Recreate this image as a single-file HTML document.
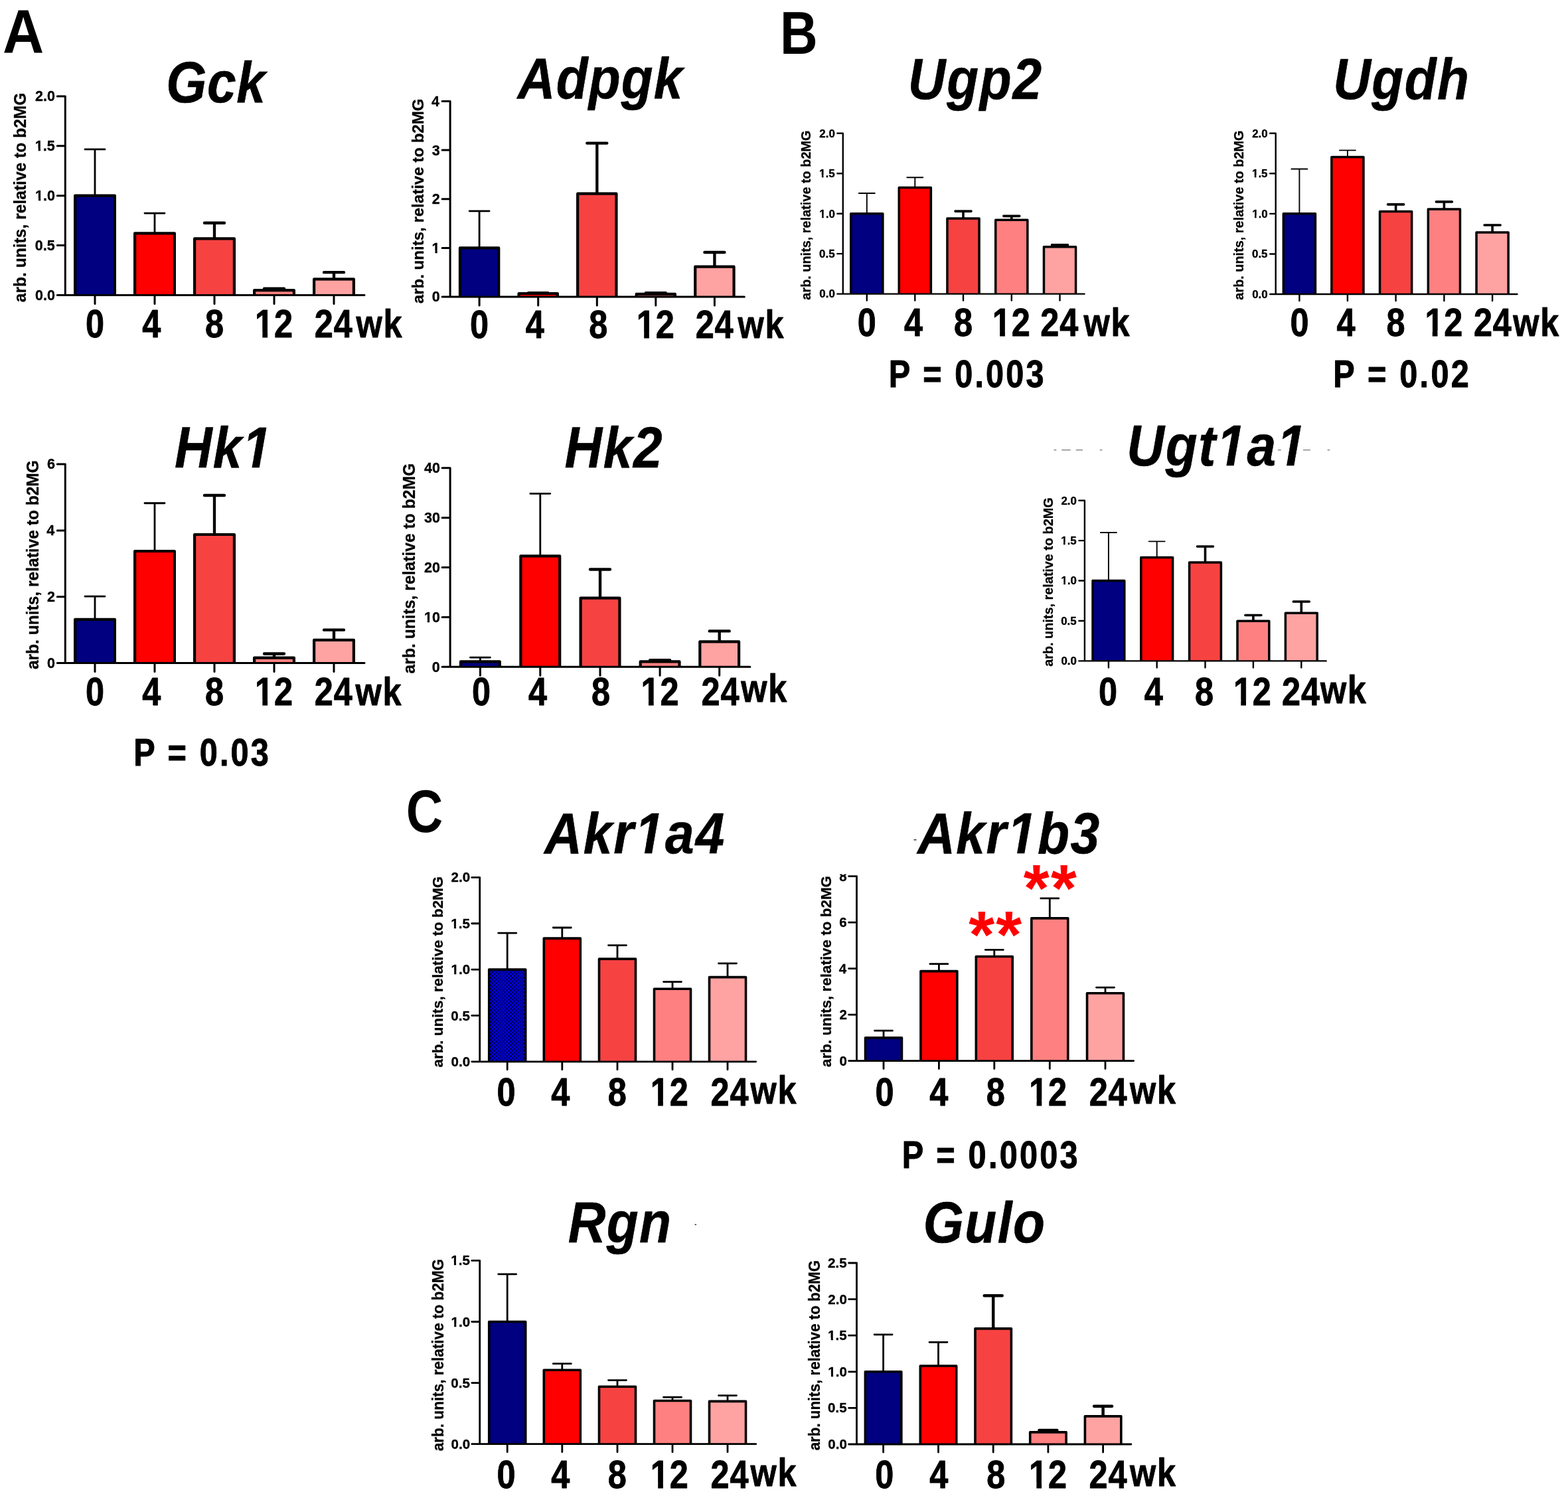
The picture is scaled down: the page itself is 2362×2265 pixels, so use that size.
<!DOCTYPE html>
<html lang="en"><head><meta charset="utf-8"><title>Figure</title>
<style>html,body{margin:0;padding:0;background:#fff}body{width:2362px;height:2265px;overflow:hidden}svg{display:block}</style></head>
<body>
<svg width="2362" height="2265" viewBox="0 0 2362 2265" font-family="'Liberation Sans', Arial, Helvetica, sans-serif" font-weight="bold" fill="#000" stroke-linecap="round" stroke-linejoin="round">
<rect width="2362" height="2265" fill="#fff"/>
<defs><pattern id="chk" width="5.5" height="5.5" patternUnits="userSpaceOnUse" x="735" y="1460"><rect width="5.5" height="5.5" fill="#000050"/><rect width="2.75" height="2.75" fill="#0000ff"/><rect x="2.75" y="2.75" width="2.75" height="2.75" fill="#0000ff"/></pattern></defs>
<g id="gck" stroke="#000" fill="none">
<path d="M143 294.7V224.89M128 224.89h30" stroke-width="2.8"/><path d="M233 351.32V321.06M218 321.06h30" stroke-width="2.8"/><path d="M323 359.41V335.75M308 335.75h30" stroke-width="4.34"/><path d="M413 437.16V434.61M398 434.61h30" stroke-width="4.34"/><path d="M503 420.38V410.2M488 410.2h30" stroke-width="4.34"/>
<g stroke-width="4.2" stroke-linecap="butt"><path d="M113.1 444.5V294.7H172.9V444.5" fill="#000080"/><path d="M203.1 444.5V351.32H262.9V444.5" fill="#fe0000"/><path d="M293.1 444.5V359.41H352.9V444.5" fill="#f74242"/><path d="M383.1 444.5V437.16H442.9V444.5" fill="#ff8080"/><path d="M473.1 444.5V420.38H532.9V444.5" fill="#ffa2a2"/></g>
<path d="M98.3 144.9V444.5M86.3 444.5H549M86.3 369.6H98.3M86.3 294.7H98.3M86.3 219.8H98.3M86.3 144.9H98.3M143 444.5v13M233 444.5v13M323 444.5v13M413 444.5v13M503 444.5v13" stroke-width="3.0"/>
<text fill="#000" transform="translate(53.11,451.89) scale(1.0000,1)" font-size="21.49" stroke="#000" stroke-width="0.35" stroke-linejoin="round">0.0</text>
<text fill="#000" transform="translate(52.84,376.99) scale(1.0000,1)" font-size="21.49" stroke="#000" stroke-width="0.35" stroke-linejoin="round">0.5</text>
<text fill="#000" transform="translate(53.11,302.09) scale(1.0000,1)" font-size="21.49" stroke="#000" stroke-width="0.35" stroke-linejoin="round">1.0</text>
<path transform="translate(53.11,302.09) scale(1.0000,1)" d="M-0.12 -3.7H4.83V1.48H-0.12zM8.15 -3.7H12.82V1.48H8.15z" fill="#fff" stroke="none"/>
<text fill="#000" transform="translate(52.84,227.19) scale(1.0000,1)" font-size="21.49" stroke="#000" stroke-width="0.35" stroke-linejoin="round">1.5</text>
<path transform="translate(52.84,227.19) scale(1.0000,1)" d="M-0.12 -3.7H4.83V1.48H-0.12zM8.15 -3.7H12.82V1.48H8.15z" fill="#fff" stroke="none"/>
<text fill="#000" transform="translate(53.11,152.29) scale(1.0000,1)" font-size="21.49" stroke="#000" stroke-width="0.35" stroke-linejoin="round">2.0</text>
<text fill="#000" transform="translate(38.75,455.19) rotate(-90) scale(0.9621,1)" font-size="25.56" stroke="#000" stroke-width="0.3" stroke-linejoin="round">arb. units, relative to b2MG</text>
<text fill="#000" transform="translate(128.99,508.15) scale(0.8600,1)" font-size="58.69" stroke="#000" stroke-width="0.9" stroke-linejoin="round">0</text>
<text fill="#000" transform="translate(214.14,508.15) scale(0.8600,1)" font-size="58.69" stroke="#000" stroke-width="0.9" stroke-linejoin="round">4</text>
<text fill="#000" transform="translate(308.93,508.15) scale(0.8600,1)" font-size="58.69" stroke="#000" stroke-width="0.9" stroke-linejoin="round">8</text>
<text fill="#000" transform="translate(383.99,508.15) scale(0.8600,1)" font-size="58.69" style="letter-spacing:1.00px" stroke="#000" stroke-width="0.9" stroke-linejoin="round">12</text>
<path transform="translate(383.99,508.15) scale(0.8600,1)" d="M1.95 -7.99H13.23V1.75H1.95zM22.22 -7.99H32.74V1.75H22.22z" fill="#fff" stroke="none"/>
<text fill="#000" transform="translate(473.8,508.15) scale(0.8600,1)" font-size="58.69" style="letter-spacing:1px" stroke="#000" stroke-width="0.9" stroke-linejoin="round">24<tspan dx="5.75" style="letter-spacing:2px;font-size:58.69px">wk</tspan></text>
<text fill="#000" transform="translate(250.15,153.6) scale(0.9000,1)" font-size="87.13" style="font-style:italic;letter-spacing:0.86px" stroke="#000" stroke-width="0.6" stroke-linejoin="round">Gck</text>
</g>
<g id="adpgk" stroke="#000" fill="none">
<path d="M722.1 373.38V317.86M707.1 317.86h30" stroke-width="2.8"/><path d="M810.7 441.99V440.37M795.7 440.37h30" stroke-width="2.8"/><path d="M899.3 291.65V215.6M884.3 215.6h30" stroke-width="4.34"/><path d="M987.8 442.95V441.11M972.8 441.11h30" stroke-width="4.34"/><path d="M1076.4 401.72V380M1061.4 380h30" stroke-width="4.34"/>
<g stroke-width="4.2" stroke-linecap="butt"><path d="M692.95 447V373.38H751.25V447" fill="#000080"/><path d="M781.55 447V441.99H839.85V447" fill="#fe0000"/><path d="M870.15 447V291.65H928.45V447" fill="#f74242"/><path d="M958.65 447V442.95H1016.95V447" fill="#ff8080"/><path d="M1047.25 447V401.72H1105.55V447" fill="#ffa2a2"/></g>
<path d="M678.1 152.5V447M666.1 447H1121.3M666.1 373.38H678.1M666.1 299.75H678.1M666.1 226.12H678.1M666.1 152.5H678.1M722.1 447v13M810.7 447v13M899.3 447v13M987.8 447v13M1076.4 447v13" stroke-width="3.0"/>
<text fill="#000" transform="translate(650.86,454.39) scale(1.0000,1)" font-size="21.49" stroke="#000" stroke-width="0.35" stroke-linejoin="round">0</text>
<text fill="#000" transform="translate(650.59,380.77) scale(1.0000,1)" font-size="21.49" stroke="#000" stroke-width="0.35" stroke-linejoin="round">1</text>
<path transform="translate(650.59,380.77) scale(1.0000,1)" d="M-0.12 -3.7H4.83V1.48H-0.12zM8.15 -3.7H12.82V1.48H8.15z" fill="#fff" stroke="none"/>
<text fill="#000" transform="translate(650.86,307.14) scale(1.0000,1)" font-size="21.49" stroke="#000" stroke-width="0.35" stroke-linejoin="round">2</text>
<text fill="#000" transform="translate(650.75,233.52) scale(1.0000,1)" font-size="21.49" stroke="#000" stroke-width="0.35" stroke-linejoin="round">3</text>
<text fill="#000" transform="translate(650.1,159.89) scale(1.0000,1)" font-size="21.49" stroke="#000" stroke-width="0.35" stroke-linejoin="round">4</text>
<text fill="#000" transform="translate(637.85,457.17) rotate(-90) scale(0.9792,1)" font-size="24.56" stroke="#000" stroke-width="0.3" stroke-linejoin="round">arb. units, relative to b2MG</text>
<text fill="#000" transform="translate(708.09,508.85) scale(0.8600,1)" font-size="58.69" stroke="#000" stroke-width="0.9" stroke-linejoin="round">0</text>
<text fill="#000" transform="translate(791.84,508.85) scale(0.8600,1)" font-size="58.69" stroke="#000" stroke-width="0.9" stroke-linejoin="round">4</text>
<text fill="#000" transform="translate(887.23,508.85) scale(0.8600,1)" font-size="58.69" stroke="#000" stroke-width="0.9" stroke-linejoin="round">8</text>
<text fill="#000" transform="translate(958.79,508.85) scale(0.8600,1)" font-size="58.69" style="letter-spacing:1.00px" stroke="#000" stroke-width="0.9" stroke-linejoin="round">12</text>
<path transform="translate(958.79,508.85) scale(0.8600,1)" d="M1.95 -7.99H13.23V1.75H1.95zM22.22 -7.99H32.74V1.75H22.22z" fill="#fff" stroke="none"/>
<text fill="#000" transform="translate(1047.7,508.85) scale(0.8600,1)" font-size="58.69" style="letter-spacing:1px" stroke="#000" stroke-width="0.9" stroke-linejoin="round">24<tspan dx="6.91" style="letter-spacing:2px;font-size:58.69px">wk</tspan></text>
<text fill="#000" transform="translate(779.84,147.9) scale(0.9000,1)" font-size="87.13" style="font-style:italic;letter-spacing:1.30px" stroke="#000" stroke-width="0.6" stroke-linejoin="round">Adpgk</text>
</g>
<g id="ugp2" stroke="#000" fill="none">
<path d="M1305.8 321.7V290.99M1293.8 290.99h24" stroke-width="1.9"/><path d="M1378.3 282.41V267.3M1366.3 267.3h24" stroke-width="1.9"/><path d="M1451 328.95V318.07M1439 318.07h24" stroke-width="3.61"/><path d="M1523.8 331.37V325.33M1511.8 325.33h24" stroke-width="3.61"/><path d="M1596.5 371.75V368.85M1584.5 368.85h24" stroke-width="3.61"/>
<g stroke-width="3.5" stroke-linecap="butt"><path d="M1281.75 442.6V321.7H1329.85V442.6" fill="#000080"/><path d="M1354.25 442.6V282.41H1402.35V442.6" fill="#fe0000"/><path d="M1426.95 442.6V328.95H1475.05V442.6" fill="#f74242"/><path d="M1499.75 442.6V331.37H1547.85V442.6" fill="#ff8080"/><path d="M1572.45 442.6V371.75H1620.55V442.6" fill="#ffa2a2"/></g>
<path d="M1269.8 200.8V442.6M1261.3 442.6H1633.6M1261.3 382.15H1269.8M1261.3 321.7H1269.8M1261.3 261.25H1269.8M1261.3 200.8H1269.8M1305.8 442.6v10M1378.3 442.6v10M1451 442.6v10M1523.8 442.6v10M1596.5 442.6v10" stroke-width="2.4"/>
<text fill="#000" transform="translate(1234.32,448.41) scale(1.0000,1)" font-size="16.89" stroke="#000" stroke-width="0.35" stroke-linejoin="round">0.0</text>
<text fill="#000" transform="translate(1234.11,387.96) scale(1.0000,1)" font-size="16.89" stroke="#000" stroke-width="0.35" stroke-linejoin="round">0.5</text>
<text fill="#000" transform="translate(1234.32,327.51) scale(1.0000,1)" font-size="16.89" stroke="#000" stroke-width="0.35" stroke-linejoin="round">1.0</text>
<path transform="translate(1234.32,327.51) scale(1.0000,1)" d="M-0.41 -3.2H3.76V1.48H-0.41zM6.44 -3.2H10.39V1.48H6.44z" fill="#fff" stroke="none"/>
<text fill="#000" transform="translate(1234.11,267.06) scale(1.0000,1)" font-size="16.89" stroke="#000" stroke-width="0.35" stroke-linejoin="round">1.5</text>
<path transform="translate(1234.11,267.06) scale(1.0000,1)" d="M-0.41 -3.2H3.76V1.48H-0.41zM6.44 -3.2H10.39V1.48H6.44z" fill="#fff" stroke="none"/>
<text fill="#000" transform="translate(1234.32,206.61) scale(1.0000,1)" font-size="16.89" stroke="#000" stroke-width="0.35" stroke-linejoin="round">2.0</text>
<text fill="#000" transform="translate(1220.85,451.65) rotate(-90) scale(0.9671,1)" font-size="20.56" stroke="#000" stroke-width="0.3" stroke-linejoin="round">arb. units, relative to b2MG</text>
<text fill="#000" transform="translate(1291.79,505.75) scale(0.8600,1)" font-size="58.69" stroke="#000" stroke-width="0.9" stroke-linejoin="round">0</text>
<text fill="#000" transform="translate(1361.94,505.75) scale(0.8600,1)" font-size="58.69" stroke="#000" stroke-width="0.9" stroke-linejoin="round">4</text>
<text fill="#000" transform="translate(1436.93,505.75) scale(0.8600,1)" font-size="58.69" stroke="#000" stroke-width="0.9" stroke-linejoin="round">8</text>
<text fill="#000" transform="translate(1494.79,505.75) scale(0.8600,1)" font-size="58.69" style="letter-spacing:1.00px" stroke="#000" stroke-width="0.9" stroke-linejoin="round">12</text>
<path transform="translate(1494.79,505.75) scale(0.8600,1)" d="M1.95 -7.99H13.23V1.75H1.95zM22.22 -7.99H32.74V1.75H22.22z" fill="#fff" stroke="none"/>
<text fill="#000" transform="translate(1567.3,505.75) scale(0.8600,1)" font-size="58.69" style="letter-spacing:1px" stroke="#000" stroke-width="0.9" stroke-linejoin="round">24<tspan dx="8.65" style="letter-spacing:2px;font-size:58.69px">wk</tspan></text>
<text fill="#000" transform="translate(1367.86,149.2) scale(0.9000,1)" font-size="87.13" style="font-style:italic;letter-spacing:1.93px" stroke="#000" stroke-width="0.6" stroke-linejoin="round">Ugp2</text>
<text fill="#000" transform="translate(1338.85,582.5) scale(0.8600,1)" font-size="56.55" style="letter-spacing:3.63px" stroke="#000" stroke-width="1" stroke-linejoin="round">P = 0.003</text>
</g>
<g id="ugdh" stroke="#000" fill="none">
<path d="M1957.4 321.85V254.49M1945.4 254.49h24" stroke-width="1.9"/><path d="M2029.9 236.56V226.38M2017.9 226.38h24" stroke-width="1.9"/><path d="M2102.6 318.46V307.92M2090.6 307.92h24" stroke-width="3.61"/><path d="M2175.4 315.07V303.92M2163.4 303.92h24" stroke-width="3.61"/><path d="M2248.1 350.08V339.05M2236.1 339.05h24" stroke-width="3.61"/>
<g stroke-width="3.5" stroke-linecap="butt"><path d="M1933.35 443V321.85H1981.45V443" fill="#000080"/><path d="M2005.85 443V236.56H2053.95V443" fill="#fe0000"/><path d="M2078.55 443V318.46H2126.65V443" fill="#f74242"/><path d="M2151.35 443V315.07H2199.45V443" fill="#ff8080"/><path d="M2224.05 443V350.08H2272.15V443" fill="#ffa2a2"/></g>
<path d="M1921.7 200.7V443M1913.2 443H2285.5M1913.2 382.43H1921.7M1913.2 321.85H1921.7M1913.2 261.27H1921.7M1913.2 200.7H1921.7M1957.4 443v10M2029.9 443v10M2102.6 443v10M2175.4 443v10M2248.1 443v10" stroke-width="2.4"/>
<text fill="#000" transform="translate(1886.22,448.81) scale(1.0000,1)" font-size="16.89" stroke="#000" stroke-width="0.35" stroke-linejoin="round">0.0</text>
<text fill="#000" transform="translate(1886.01,388.24) scale(1.0000,1)" font-size="16.89" stroke="#000" stroke-width="0.35" stroke-linejoin="round">0.5</text>
<text fill="#000" transform="translate(1886.22,327.66) scale(1.0000,1)" font-size="16.89" stroke="#000" stroke-width="0.35" stroke-linejoin="round">1.0</text>
<path transform="translate(1886.22,327.66) scale(1.0000,1)" d="M-0.41 -3.2H3.76V1.48H-0.41zM6.44 -3.2H10.39V1.48H6.44z" fill="#fff" stroke="none"/>
<text fill="#000" transform="translate(1886.01,267.09) scale(1.0000,1)" font-size="16.89" stroke="#000" stroke-width="0.35" stroke-linejoin="round">1.5</text>
<path transform="translate(1886.01,267.09) scale(1.0000,1)" d="M-0.41 -3.2H3.76V1.48H-0.41zM6.44 -3.2H10.39V1.48H6.44z" fill="#fff" stroke="none"/>
<text fill="#000" transform="translate(1886.22,206.51) scale(1.0000,1)" font-size="16.89" stroke="#000" stroke-width="0.35" stroke-linejoin="round">2.0</text>
<text fill="#000" transform="translate(1872.85,451.65) rotate(-90) scale(0.9671,1)" font-size="20.56" stroke="#000" stroke-width="0.3" stroke-linejoin="round">arb. units, relative to b2MG</text>
<text fill="#000" transform="translate(1943.39,505.95) scale(0.8600,1)" font-size="58.69" stroke="#000" stroke-width="0.9" stroke-linejoin="round">0</text>
<text fill="#000" transform="translate(2013.54,505.95) scale(0.8600,1)" font-size="58.69" stroke="#000" stroke-width="0.9" stroke-linejoin="round">4</text>
<text fill="#000" transform="translate(2088.53,505.95) scale(0.8600,1)" font-size="58.69" stroke="#000" stroke-width="0.9" stroke-linejoin="round">8</text>
<text fill="#000" transform="translate(2146.39,505.95) scale(0.8600,1)" font-size="58.69" style="letter-spacing:1.00px" stroke="#000" stroke-width="0.9" stroke-linejoin="round">12</text>
<path transform="translate(2146.39,505.95) scale(0.8600,1)" d="M1.95 -7.99H13.23V1.75H1.95zM22.22 -7.99H32.74V1.75H22.22z" fill="#fff" stroke="none"/>
<text fill="#000" transform="translate(2219.9,505.95) scale(0.8600,1)" font-size="58.69" style="letter-spacing:1px" stroke="#000" stroke-width="0.9" stroke-linejoin="round">24<tspan dx="1.68" style="letter-spacing:2px;font-size:58.69px">wk</tspan></text>
<text fill="#000" transform="translate(2008.36,149.2) scale(0.9000,1)" font-size="87.13" style="font-style:italic;letter-spacing:1.54px" stroke="#000" stroke-width="0.6" stroke-linejoin="round">Ugdh</text>
<text fill="#000" transform="translate(2008.35,582.5) scale(0.8600,1)" font-size="56.55" style="letter-spacing:3.78px" stroke="#000" stroke-width="1" stroke-linejoin="round">P = 0.02</text>
</g>
<g id="hk1" stroke="#000" fill="none">
<path d="M143 932.81V898.17M128 898.17h30" stroke-width="2.8"/><path d="M233 829.98V757.75M218 757.75h30" stroke-width="2.8"/><path d="M323 805.02V746.02M308 746.02h30" stroke-width="4.34"/><path d="M413 990.61V984.47M398 984.47h30" stroke-width="4.34"/><path d="M503 963.91V948.68M488 948.68h30" stroke-width="4.34"/>
<g stroke-width="4.2" stroke-linecap="butt"><path d="M113.1 998.6V932.81H172.9V998.6" fill="#000080"/><path d="M203.1 998.6V829.98H262.9V998.6" fill="#fe0000"/><path d="M293.1 998.6V805.02H352.9V998.6" fill="#f74242"/><path d="M383.1 998.6V990.61H442.9V998.6" fill="#ff8080"/><path d="M473.1 998.6V963.91H532.9V998.6" fill="#ffa2a2"/></g>
<path d="M98.3 699.1V998.6M86.3 998.6H549M86.3 898.77H98.3M86.3 798.93H98.3M86.3 699.1H98.3M143 998.6v13M233 998.6v13M323 998.6v13M413 998.6v13M503 998.6v13" stroke-width="3.0"/>
<text fill="#000" transform="translate(71.06,1005.99) scale(1.0000,1)" font-size="21.49" stroke="#000" stroke-width="0.35" stroke-linejoin="round">0</text>
<text fill="#000" transform="translate(71.06,906.16) scale(1.0000,1)" font-size="21.49" stroke="#000" stroke-width="0.35" stroke-linejoin="round">2</text>
<text fill="#000" transform="translate(70.3,806.33) scale(1.0000,1)" font-size="21.49" stroke="#000" stroke-width="0.35" stroke-linejoin="round">4</text>
<text fill="#000" transform="translate(70.95,706.49) scale(1.0000,1)" font-size="21.49" stroke="#000" stroke-width="0.35" stroke-linejoin="round">6</text>
<text fill="#000" transform="translate(57.85,1008.09) rotate(-90) scale(0.9606,1)" font-size="25.56" stroke="#000" stroke-width="0.3" stroke-linejoin="round">arb. units, relative to b2MG</text>
<text fill="#000" transform="translate(128.99,1061.95) scale(0.8600,1)" font-size="58.69" stroke="#000" stroke-width="0.9" stroke-linejoin="round">0</text>
<text fill="#000" transform="translate(214.14,1061.95) scale(0.8600,1)" font-size="58.69" stroke="#000" stroke-width="0.9" stroke-linejoin="round">4</text>
<text fill="#000" transform="translate(308.93,1061.95) scale(0.8600,1)" font-size="58.69" stroke="#000" stroke-width="0.9" stroke-linejoin="round">8</text>
<text fill="#000" transform="translate(383.99,1061.95) scale(0.8600,1)" font-size="58.69" style="letter-spacing:1.00px" stroke="#000" stroke-width="0.9" stroke-linejoin="round">12</text>
<path transform="translate(383.99,1061.95) scale(0.8600,1)" d="M1.95 -7.99H13.23V1.75H1.95zM22.22 -7.99H32.74V1.75H22.22z" fill="#fff" stroke="none"/>
<text fill="#000" transform="translate(473.8,1061.95) scale(0.8600,1)" font-size="58.69" style="letter-spacing:1px" stroke="#000" stroke-width="0.9" stroke-linejoin="round">24<tspan dx="4.58" style="letter-spacing:2px;font-size:58.69px">wk</tspan></text>
<text fill="#000" transform="translate(263,703.5) scale(0.9000,1)" font-size="87.13" style="font-style:italic;letter-spacing:1.14px" stroke="#000" stroke-width="0.6" stroke-linejoin="round">Hk1</text>
<path transform="translate(263,703.5) scale(0.9000,1)" d="M113.23 1.6L129.26 1.6L131.81 -11.61L115.78 -11.61zM141.8 1.6L156.95 1.6L159.5 -11.61L144.34 -11.61z" fill="#fff" stroke="none"/>
<text fill="#000" transform="translate(201.15,1153.1) scale(0.8600,1)" font-size="56.55" style="letter-spacing:3.67px" stroke="#000" stroke-width="1" stroke-linejoin="round">P = 0.03</text>
</g>
<g id="hk2" stroke="#000" fill="none">
<path d="M723.4 996.44V990.07M708.4 990.07h30" stroke-width="2.8"/><path d="M813.8 837.33V743.36M798.8 743.36h30" stroke-width="2.8"/><path d="M904 900.6V857.54M889 857.54h30" stroke-width="4.34"/><path d="M994.1 996.44V994.19M979.1 994.19h30" stroke-width="4.34"/><path d="M1083.7 966.34V950.39M1068.7 950.39h30" stroke-width="4.34"/>
<g stroke-width="4.2" stroke-linecap="butt"><path d="M694 1004.3V996.44H752.8V1004.3" fill="#000080"/><path d="M784.4 1004.3V837.33H843.2V1004.3" fill="#fe0000"/><path d="M874.6 1004.3V900.6H933.4V1004.3" fill="#f74242"/><path d="M964.7 1004.3V996.44H1023.5V1004.3" fill="#ff8080"/><path d="M1054.3 1004.3V966.34H1113.1V1004.3" fill="#ffa2a2"/></g>
<path d="M678.1 704.8V1004.3M666.1 1004.3H1129.9M666.1 929.42H678.1M666.1 854.55H678.1M666.1 779.67H678.1M666.1 704.8H678.1M723.4 1004.3v13M813.8 1004.3v13M904 1004.3v13M994.1 1004.3v13M1083.7 1004.3v13" stroke-width="3.0"/>
<text fill="#000" transform="translate(650.86,1011.69) scale(1.0000,1)" font-size="21.49" stroke="#000" stroke-width="0.35" stroke-linejoin="round">0</text>
<text fill="#000" transform="translate(638.93,936.82) scale(1.0000,1)" font-size="21.49" stroke="#000" stroke-width="0.35" stroke-linejoin="round">10</text>
<path transform="translate(638.93,936.82) scale(1.0000,1)" d="M-0.12 -3.7H4.83V1.48H-0.12zM8.15 -3.7H12.82V1.48H8.15z" fill="#fff" stroke="none"/>
<text fill="#000" transform="translate(638.93,861.94) scale(1.0000,1)" font-size="21.49" stroke="#000" stroke-width="0.35" stroke-linejoin="round">20</text>
<text fill="#000" transform="translate(638.93,787.07) scale(1.0000,1)" font-size="21.49" stroke="#000" stroke-width="0.35" stroke-linejoin="round">30</text>
<text fill="#000" transform="translate(638.93,712.19) scale(1.0000,1)" font-size="21.49" stroke="#000" stroke-width="0.35" stroke-linejoin="round">40</text>
<text fill="#000" transform="translate(624.85,1014.4) rotate(-90) scale(0.9655,1)" font-size="25.56" stroke="#000" stroke-width="0.3" stroke-linejoin="round">arb. units, relative to b2MG</text>
<text fill="#000" transform="translate(710.89,1061.95) scale(0.8600,1)" font-size="58.69" stroke="#000" stroke-width="0.9" stroke-linejoin="round">0</text>
<text fill="#000" transform="translate(795.94,1061.95) scale(0.8600,1)" font-size="58.69" stroke="#000" stroke-width="0.9" stroke-linejoin="round">4</text>
<text fill="#000" transform="translate(890.93,1061.95) scale(0.8600,1)" font-size="58.69" stroke="#000" stroke-width="0.9" stroke-linejoin="round">8</text>
<text fill="#000" transform="translate(965.59,1061.95) scale(0.8600,1)" font-size="58.69" style="letter-spacing:1.00px" stroke="#000" stroke-width="0.9" stroke-linejoin="round">12</text>
<path transform="translate(965.59,1061.95) scale(0.8600,1)" d="M1.95 -7.99H13.23V1.75H1.95zM22.22 -7.99H32.74V1.75H22.22z" fill="#fff" stroke="none"/>
<text fill="#000" transform="translate(1056.5,1061.95) scale(0.8600,1)" font-size="58.69" style="letter-spacing:1px" stroke="#000" stroke-width="0.9" stroke-linejoin="round">24<tspan dx="2.26" dy="-4.5" style="letter-spacing:2px;font-size:58.69px">wk</tspan></text>
<text fill="#000" transform="translate(850.4,703.5) scale(0.9000,1)" font-size="87.13" style="font-style:italic;letter-spacing:1.90px" stroke="#000" stroke-width="0.6" stroke-linejoin="round">Hk2</text>
</g>
<g id="ugt1a1" stroke="#000" fill="none">
<path d="M1669.9 874.55V802.04M1657.9 802.04h24" stroke-width="1.9"/><path d="M1742.7 839.5V815.33M1730.7 815.33h24" stroke-width="1.9"/><path d="M1815.5 847V822.95M1803.5 822.95h24" stroke-width="3.61"/><path d="M1887.9 935.34V926.52M1875.9 926.52h24" stroke-width="3.61"/><path d="M1960.3 923.25V905.97M1948.3 905.97h24" stroke-width="3.61"/>
<g stroke-width="3.5" stroke-linecap="butt"><path d="M1646 995.4V874.55H1693.8V995.4" fill="#000080"/><path d="M1718.8 995.4V839.5H1766.6V995.4" fill="#fe0000"/><path d="M1791.6 995.4V847H1839.4V995.4" fill="#f74242"/><path d="M1864 995.4V935.34H1911.8V995.4" fill="#ff8080"/><path d="M1936.4 995.4V923.25H1984.2V995.4" fill="#ffa2a2"/></g>
<path d="M1633.9 753.7V995.4M1625.4 995.4H1997.7M1625.4 934.98H1633.9M1625.4 874.55H1633.9M1625.4 814.12H1633.9M1625.4 753.7H1633.9M1669.9 995.4v10M1742.7 995.4v10M1815.5 995.4v10M1887.9 995.4v10M1960.3 995.4v10" stroke-width="2.4"/>
<text fill="#000" transform="translate(1598.42,1001.21) scale(1.0000,1)" font-size="16.89" stroke="#000" stroke-width="0.35" stroke-linejoin="round">0.0</text>
<text fill="#000" transform="translate(1598.21,940.79) scale(1.0000,1)" font-size="16.89" stroke="#000" stroke-width="0.35" stroke-linejoin="round">0.5</text>
<text fill="#000" transform="translate(1598.42,880.36) scale(1.0000,1)" font-size="16.89" stroke="#000" stroke-width="0.35" stroke-linejoin="round">1.0</text>
<path transform="translate(1598.42,880.36) scale(1.0000,1)" d="M-0.41 -3.2H3.76V1.48H-0.41zM6.44 -3.2H10.39V1.48H6.44z" fill="#fff" stroke="none"/>
<text fill="#000" transform="translate(1598.21,819.94) scale(1.0000,1)" font-size="16.89" stroke="#000" stroke-width="0.35" stroke-linejoin="round">1.5</text>
<path transform="translate(1598.21,819.94) scale(1.0000,1)" d="M-0.41 -3.2H3.76V1.48H-0.41zM6.44 -3.2H10.39V1.48H6.44z" fill="#fff" stroke="none"/>
<text fill="#000" transform="translate(1598.42,759.51) scale(1.0000,1)" font-size="16.89" stroke="#000" stroke-width="0.35" stroke-linejoin="round">2.0</text>
<text fill="#000" transform="translate(1585.85,1003.75) rotate(-90) scale(0.9644,1)" font-size="20.56" stroke="#000" stroke-width="0.3" stroke-linejoin="round">arb. units, relative to b2MG</text>
<text fill="#000" transform="translate(1654.89,1062.15) scale(0.8600,1)" font-size="58.69" stroke="#000" stroke-width="0.9" stroke-linejoin="round">0</text>
<text fill="#000" transform="translate(1723.84,1062.15) scale(0.8600,1)" font-size="58.69" stroke="#000" stroke-width="0.9" stroke-linejoin="round">4</text>
<text fill="#000" transform="translate(1799.93,1062.15) scale(0.8600,1)" font-size="58.69" stroke="#000" stroke-width="0.9" stroke-linejoin="round">8</text>
<text fill="#000" transform="translate(1857.89,1062.15) scale(0.8600,1)" font-size="58.69" style="letter-spacing:1.00px" stroke="#000" stroke-width="0.9" stroke-linejoin="round">12</text>
<path transform="translate(1857.89,1062.15) scale(0.8600,1)" d="M1.95 -7.99H13.23V1.75H1.95zM22.22 -7.99H32.74V1.75H22.22z" fill="#fff" stroke="none"/>
<text fill="#000" transform="translate(1931.1,1062.15) scale(0.8600,1)" font-size="58.69" style="letter-spacing:1px" stroke="#000" stroke-width="0.9" stroke-linejoin="round">24<tspan dx="-0.07" dy="-3" style="letter-spacing:2px;font-size:58.69px">wk</tspan></text>
<text fill="#000" transform="translate(1697.36,700.9) scale(0.9000,1)" font-size="87.13" style="font-style:italic;letter-spacing:1.90px" stroke="#000" stroke-width="0.6" stroke-linejoin="round">Ugt1a1</text>
<path transform="translate(1697.36,700.9) scale(0.9000,1)" d="M150.44 1.6L166.47 1.6L169.02 -11.61L152.99 -11.61zM179 1.6L194.16 1.6L196.71 -11.61L181.55 -11.61zM251.17 1.6L267.19 1.6L269.74 -11.61L253.72 -11.61zM279.73 1.6L294.88 1.6L297.43 -11.61L282.28 -11.61z" fill="#fff" stroke="none"/>
</g>
<g id="akr1a4" stroke="#000" fill="none">
<path d="M764.2 1460.1V1405.17M750.7 1405.17h27" stroke-width="2.8"/><path d="M846.8 1413.08V1396.99M833.3 1396.99h27" stroke-width="2.8"/><path d="M930 1444.15V1423.62M916.5 1423.62h27" stroke-width="2.8"/><path d="M1013 1489.23V1478.55M999.5 1478.55h27" stroke-width="2.8"/><path d="M1096 1471.61V1450.81M1082.5 1450.81h27" stroke-width="2.8"/>
<g stroke-width="3.6" stroke-linecap="butt"><path d="M736.7 1598.8V1460.1H791.7V1598.8" fill="url(#chk)"/><path d="M819.3 1598.8V1413.08H874.3V1598.8" fill="#fe0000"/><path d="M902.5 1598.8V1444.15H957.5V1598.8" fill="#f74242"/><path d="M985.5 1598.8V1489.23H1040.5V1598.8" fill="#ff8080"/><path d="M1068.5 1598.8V1471.61H1123.5V1598.8" fill="#ffa2a2"/></g>
<path d="M722.7 1321.4V1598.8M710.8 1598.8H1138.7M710.8 1529.45H722.7M710.8 1460.1H722.7M710.8 1390.75H722.7M710.8 1321.4H722.7M764.2 1598.8v12M846.8 1598.8v12M930 1598.8v12M1013 1598.8v12M1096 1598.8v12" stroke-width="2.8"/>
<text fill="#000" transform="translate(679.56,1605.85) scale(1.0000,1)" font-size="20.49" stroke="#000" stroke-width="0.35" stroke-linejoin="round">0.0</text>
<text fill="#000" transform="translate(679.31,1536.5) scale(1.0000,1)" font-size="20.49" stroke="#000" stroke-width="0.35" stroke-linejoin="round">0.5</text>
<text fill="#000" transform="translate(679.56,1467.15) scale(1.0000,1)" font-size="20.49" stroke="#000" stroke-width="0.35" stroke-linejoin="round">1.0</text>
<path transform="translate(679.56,1467.15) scale(1.0000,1)" d="M-0.18 -3.59H4.6V1.48H-0.18zM7.78 -3.59H12.29V1.48H7.78z" fill="#fff" stroke="none"/>
<text fill="#000" transform="translate(679.31,1397.8) scale(1.0000,1)" font-size="20.49" stroke="#000" stroke-width="0.35" stroke-linejoin="round">1.5</text>
<path transform="translate(679.31,1397.8) scale(1.0000,1)" d="M-0.18 -3.59H4.6V1.48H-0.18zM7.78 -3.59H12.29V1.48H7.78z" fill="#fff" stroke="none"/>
<text fill="#000" transform="translate(679.56,1328.45) scale(1.0000,1)" font-size="20.49" stroke="#000" stroke-width="0.35" stroke-linejoin="round">2.0</text>
<text fill="#000" transform="translate(666.85,1607.52) rotate(-90) scale(0.9944,1)" font-size="22.56" stroke="#000" stroke-width="0.3" stroke-linejoin="round">arb. units, relative to b2MG</text>
<text fill="#000" transform="translate(748.39,1664.55) scale(0.8600,1)" font-size="58.69" stroke="#000" stroke-width="0.9" stroke-linejoin="round">0</text>
<text fill="#000" transform="translate(830.34,1664.55) scale(0.8600,1)" font-size="58.69" stroke="#000" stroke-width="0.9" stroke-linejoin="round">4</text>
<text fill="#000" transform="translate(915.83,1664.55) scale(0.8600,1)" font-size="58.69" stroke="#000" stroke-width="0.9" stroke-linejoin="round">8</text>
<text fill="#000" transform="translate(979.79,1664.55) scale(0.8600,1)" font-size="58.69" style="letter-spacing:1.00px" stroke="#000" stroke-width="0.9" stroke-linejoin="round">12</text>
<path transform="translate(979.79,1664.55) scale(0.8600,1)" d="M1.95 -7.99H13.23V1.75H1.95zM22.22 -7.99H32.74V1.75H22.22z" fill="#fff" stroke="none"/>
<text fill="#000" transform="translate(1070.5,1664.55) scale(0.8600,1)" font-size="58.69" style="letter-spacing:1px" stroke="#000" stroke-width="0.9" stroke-linejoin="round">24<tspan dx="2.49" dy="-3" style="letter-spacing:2px;font-size:58.69px">wk</tspan></text>
<text fill="#000" transform="translate(820.14,1284.7) scale(0.9000,1)" font-size="87.13" style="font-style:italic;letter-spacing:2.12px" stroke="#000" stroke-width="0.6" stroke-linejoin="round">Akr1a4</text>
<path transform="translate(820.14,1284.7) scale(0.9000,1)" d="M151.23 1.6L167.26 1.6L169.8 -11.61L153.78 -11.61zM179.79 1.6L194.95 1.6L197.49 -11.61L182.34 -11.61z" fill="#fff" stroke="none"/>
</g>
<g id="akr1b3" stroke="#000" fill="none">
<path d="M1331 1562.85V1552.08M1317.5 1552.08h27" stroke-width="2.8"/><path d="M1414.4 1462.6V1451.65M1400.9 1451.65h27" stroke-width="2.8"/><path d="M1497.8 1440.53V1430.45M1484.3 1430.45h27" stroke-width="2.8"/><path d="M1581.3 1382.84V1352.96M1567.8 1352.96h27" stroke-width="2.8"/><path d="M1665 1495.78V1487.09M1651.5 1487.09h27" stroke-width="2.8"/>
<g stroke-width="3.6" stroke-linecap="butt"><path d="M1303.55 1597.6V1562.85H1358.45V1597.6" fill="#000080"/><path d="M1386.95 1597.6V1462.6H1441.85V1597.6" fill="#fe0000"/><path d="M1470.35 1597.6V1440.53H1525.25V1597.6" fill="#f74242"/><path d="M1553.85 1597.6V1382.84H1608.75V1597.6" fill="#ff8080"/><path d="M1637.55 1597.6V1495.78H1692.45V1597.6" fill="#ffa2a2"/></g>
<path d="M1290.5 1319.6V1597.6M1278.6 1597.6H1707.7M1278.6 1528.1H1290.5M1278.6 1458.6H1290.5M1278.6 1389.1H1290.5M1278.6 1319.6H1290.5M1331 1597.6v12M1414.4 1597.6v12M1497.8 1597.6v12M1581.3 1597.6v12M1665 1597.6v12" stroke-width="2.8"/>
<text fill="#000" transform="translate(1264.47,1604.65) scale(1.0000,1)" font-size="20.49" stroke="#000" stroke-width="0.35" stroke-linejoin="round">0</text>
<text fill="#000" transform="translate(1264.47,1535.15) scale(1.0000,1)" font-size="20.49" stroke="#000" stroke-width="0.35" stroke-linejoin="round">2</text>
<text fill="#000" transform="translate(1263.75,1465.65) scale(1.0000,1)" font-size="20.49" stroke="#000" stroke-width="0.35" stroke-linejoin="round">4</text>
<text fill="#000" transform="translate(1264.37,1396.15) scale(1.0000,1)" font-size="20.49" stroke="#000" stroke-width="0.35" stroke-linejoin="round">6</text>
<clipPath id="clipakr1b3"><rect x="1230.5" y="1316.4" width="60" height="40"/></clipPath><g clip-path="url(#clipakr1b3)">
<text fill="#000" transform="translate(1264.27,1326.65) scale(1.0000,1)" font-size="20.49" stroke="#000" stroke-width="0.35" stroke-linejoin="round">8</text>
</g>
<text fill="#000" transform="translate(1252.25,1606.92) rotate(-90) scale(0.9995,1)" font-size="22.46" stroke="#000" stroke-width="0.3" stroke-linejoin="round">arb. units, relative to b2MG</text>
<text fill="#000" transform="translate(1318.49,1664.55) scale(0.8600,1)" font-size="58.69" stroke="#000" stroke-width="0.9" stroke-linejoin="round">0</text>
<text fill="#000" transform="translate(1400.14,1664.55) scale(0.8600,1)" font-size="58.69" stroke="#000" stroke-width="0.9" stroke-linejoin="round">4</text>
<text fill="#000" transform="translate(1485.63,1664.55) scale(0.8600,1)" font-size="58.69" stroke="#000" stroke-width="0.9" stroke-linejoin="round">8</text>
<text fill="#000" transform="translate(1550.19,1664.55) scale(0.8600,1)" font-size="58.69" style="letter-spacing:1.00px" stroke="#000" stroke-width="0.9" stroke-linejoin="round">12</text>
<path transform="translate(1550.19,1664.55) scale(0.8600,1)" d="M1.95 -7.99H13.23V1.75H1.95zM22.22 -7.99H32.74V1.75H22.22z" fill="#fff" stroke="none"/>
<text fill="#000" transform="translate(1640.7,1664.55) scale(0.8600,1)" font-size="58.69" style="letter-spacing:1px" stroke="#000" stroke-width="0.9" stroke-linejoin="round">24<tspan dx="4.12" dy="-3" style="letter-spacing:2px;font-size:58.69px">wk</tspan></text>
<text fill="#000" transform="translate(1382.14,1285.1) scale(0.9000,1)" font-size="87.13" style="font-style:italic;letter-spacing:1.79px" stroke="#000" stroke-width="0.6" stroke-linejoin="round">Akr1b3</text>
<path transform="translate(1382.14,1285.1) scale(0.9000,1)" d="M150.23 1.6L166.25 1.6L168.8 -11.61L152.78 -11.61zM178.79 1.6L193.94 1.6L196.49 -11.61L181.34 -11.61z" fill="#fff" stroke="none"/>
<text fill="#000" transform="translate(1358.65,1758.8) scale(0.8600,1)" font-size="56.55" style="letter-spacing:3.77px" stroke="#000" stroke-width="1" stroke-linejoin="round">P = 0.0003</text>
</g>
<g id="rgn" stroke="#000" fill="none">
<path d="M764.2 1990.5V1918.85M750.7 1918.85h27" stroke-width="2.8"/><path d="M846.8 2063.26V2053.68M833.3 2053.68h27" stroke-width="2.8"/><path d="M930 2088.31V2078.55M916.5 2078.55h27" stroke-width="2.8"/><path d="M1013 2109.49V2104.15M999.5 2104.15h27" stroke-width="2.8"/><path d="M1096 2110.41V2101.57M1082.5 2101.57h27" stroke-width="2.8"/>
<g stroke-width="3.6" stroke-linecap="butt"><path d="M736.7 2174.7V1990.5H791.7V2174.7" fill="#000080"/><path d="M819.3 2174.7V2063.26H874.3V2174.7" fill="#fe0000"/><path d="M902.5 2174.7V2088.31H957.5V2174.7" fill="#f74242"/><path d="M985.5 2174.7V2109.49H1040.5V2174.7" fill="#ff8080"/><path d="M1068.5 2174.7V2110.41H1123.5V2174.7" fill="#ffa2a2"/></g>
<path d="M722.7 1898.4V2174.7M710.8 2174.7H1138.7M710.8 2082.6H722.7M710.8 1990.5H722.7M710.8 1898.4H722.7M764.2 2174.7v12M846.8 2174.7v12M930 2174.7v12M1013 2174.7v12M1096 2174.7v12" stroke-width="2.8"/>
<text fill="#000" transform="translate(679.56,2181.75) scale(1.0000,1)" font-size="20.49" stroke="#000" stroke-width="0.35" stroke-linejoin="round">0.0</text>
<text fill="#000" transform="translate(679.31,2089.65) scale(1.0000,1)" font-size="20.49" stroke="#000" stroke-width="0.35" stroke-linejoin="round">0.5</text>
<text fill="#000" transform="translate(679.56,1997.55) scale(1.0000,1)" font-size="20.49" stroke="#000" stroke-width="0.35" stroke-linejoin="round">1.0</text>
<path transform="translate(679.56,1997.55) scale(1.0000,1)" d="M-0.18 -3.59H4.6V1.48H-0.18zM7.78 -3.59H12.29V1.48H7.78z" fill="#fff" stroke="none"/>
<text fill="#000" transform="translate(679.31,1905.45) scale(1.0000,1)" font-size="20.49" stroke="#000" stroke-width="0.35" stroke-linejoin="round">1.5</text>
<path transform="translate(679.31,1905.45) scale(1.0000,1)" d="M-0.18 -3.59H4.6V1.48H-0.18zM7.78 -3.59H12.29V1.48H7.78z" fill="#fff" stroke="none"/>
<text fill="#000" transform="translate(667.95,2185.23) rotate(-90) scale(0.9779,1)" font-size="23.06" stroke="#000" stroke-width="0.3" stroke-linejoin="round">arb. units, relative to b2MG</text>
<text fill="#000" transform="translate(748.39,2241.35) scale(0.8600,1)" font-size="58.69" stroke="#000" stroke-width="0.9" stroke-linejoin="round">0</text>
<text fill="#000" transform="translate(830.34,2241.35) scale(0.8600,1)" font-size="58.69" stroke="#000" stroke-width="0.9" stroke-linejoin="round">4</text>
<text fill="#000" transform="translate(915.83,2241.35) scale(0.8600,1)" font-size="58.69" stroke="#000" stroke-width="0.9" stroke-linejoin="round">8</text>
<text fill="#000" transform="translate(979.79,2241.35) scale(0.8600,1)" font-size="58.69" style="letter-spacing:1.00px" stroke="#000" stroke-width="0.9" stroke-linejoin="round">12</text>
<path transform="translate(979.79,2241.35) scale(0.8600,1)" d="M1.95 -7.99H13.23V1.75H1.95zM22.22 -7.99H32.74V1.75H22.22z" fill="#fff" stroke="none"/>
<text fill="#000" transform="translate(1070.5,2241.35) scale(0.8600,1)" font-size="58.69" style="letter-spacing:1px" stroke="#000" stroke-width="0.9" stroke-linejoin="round">24<tspan dx="2.49" dy="-3" style="letter-spacing:2px;font-size:58.69px">wk</tspan></text>
<text fill="#000" transform="translate(855.8,1871.4) scale(0.9000,1)" font-size="87.13" style="font-style:italic;letter-spacing:1.53px" stroke="#000" stroke-width="0.6" stroke-linejoin="round">Rgn</text>
</g>
<g id="gulo" stroke="#000" fill="none">
<path d="M1330.6 2065.8V2009.78M1317.1 2009.78h27" stroke-width="2.8"/><path d="M1413.5 2057.06V2021.36M1400 2021.36h27" stroke-width="2.8"/><path d="M1496.2 2000.83V1951.14M1482.7 1951.14h27" stroke-width="4.48"/><path d="M1578.9 2156.87V2153.92M1565.4 2153.92h27" stroke-width="4.48"/><path d="M1661.6 2132.85V2117.78M1648.1 2117.78h27" stroke-width="4.48"/>
<g stroke-width="3.6" stroke-linecap="butt"><path d="M1303.4 2175V2065.8H1357.8V2175" fill="#000080"/><path d="M1386.3 2175V2057.06H1440.7V2175" fill="#fe0000"/><path d="M1469 2175V2000.83H1523.4V2175" fill="#f74242"/><path d="M1551.7 2175V2156.87H1606.1V2175" fill="#ff8080"/><path d="M1634.4 2175V2132.85H1688.8V2175" fill="#ffa2a2"/></g>
<path d="M1290.5 1902V2175M1278.6 2175H1703.9M1278.6 2120.4H1290.5M1278.6 2065.8H1290.5M1278.6 2011.2H1290.5M1278.6 1956.6H1290.5M1278.6 1902H1290.5M1330.6 2175v12M1413.5 2175v12M1496.2 2175v12M1578.9 2175v12M1661.6 2175v12" stroke-width="2.8"/>
<text fill="#000" transform="translate(1247.36,2182.05) scale(1.0000,1)" font-size="20.49" stroke="#000" stroke-width="0.35" stroke-linejoin="round">0.0</text>
<text fill="#000" transform="translate(1247.11,2127.45) scale(1.0000,1)" font-size="20.49" stroke="#000" stroke-width="0.35" stroke-linejoin="round">0.5</text>
<text fill="#000" transform="translate(1247.36,2072.85) scale(1.0000,1)" font-size="20.49" stroke="#000" stroke-width="0.35" stroke-linejoin="round">1.0</text>
<path transform="translate(1247.36,2072.85) scale(1.0000,1)" d="M-0.18 -3.59H4.6V1.48H-0.18zM7.78 -3.59H12.29V1.48H7.78z" fill="#fff" stroke="none"/>
<text fill="#000" transform="translate(1247.11,2018.25) scale(1.0000,1)" font-size="20.49" stroke="#000" stroke-width="0.35" stroke-linejoin="round">1.5</text>
<path transform="translate(1247.11,2018.25) scale(1.0000,1)" d="M-0.18 -3.59H4.6V1.48H-0.18zM7.78 -3.59H12.29V1.48H7.78z" fill="#fff" stroke="none"/>
<text fill="#000" transform="translate(1247.36,1963.65) scale(1.0000,1)" font-size="20.49" stroke="#000" stroke-width="0.35" stroke-linejoin="round">2.0</text>
<text fill="#000" transform="translate(1247.11,1909.05) scale(1.0000,1)" font-size="20.49" stroke="#000" stroke-width="0.35" stroke-linejoin="round">2.5</text>
<text fill="#000" transform="translate(1234.85,2184.33) rotate(-90) scale(0.9476,1)" font-size="23.56" stroke="#000" stroke-width="0.3" stroke-linejoin="round">arb. units, relative to b2MG</text>
<text fill="#000" transform="translate(1318.29,2241.35) scale(0.8600,1)" font-size="58.69" stroke="#000" stroke-width="0.9" stroke-linejoin="round">0</text>
<text fill="#000" transform="translate(1400.14,2241.35) scale(0.8600,1)" font-size="58.69" stroke="#000" stroke-width="0.9" stroke-linejoin="round">4</text>
<text fill="#000" transform="translate(1486.33,2241.35) scale(0.8600,1)" font-size="58.69" stroke="#000" stroke-width="0.9" stroke-linejoin="round">8</text>
<text fill="#000" transform="translate(1549.99,2241.35) scale(0.8600,1)" font-size="58.69" style="letter-spacing:1.00px" stroke="#000" stroke-width="0.9" stroke-linejoin="round">12</text>
<path transform="translate(1549.99,2241.35) scale(0.8600,1)" d="M1.95 -7.99H13.23V1.75H1.95zM22.22 -7.99H32.74V1.75H22.22z" fill="#fff" stroke="none"/>
<text fill="#000" transform="translate(1640.6,2241.35) scale(0.8600,1)" font-size="58.69" style="letter-spacing:1px" stroke="#000" stroke-width="0.9" stroke-linejoin="round">24<tspan dx="4.12" dy="-3" style="letter-spacing:2px;font-size:58.69px">wk</tspan></text>
<text fill="#000" transform="translate(1390.85,1870.7) scale(0.9000,1)" font-size="87.13" style="font-style:italic;letter-spacing:1.68px" stroke="#000" stroke-width="0.6" stroke-linejoin="round">Gulo</text>
</g>
<text transform="translate(3.95,79.3) scale(0.9260,1)" font-size="93">A</text>
<text transform="translate(1175.1,81.3) scale(0.8629,1)" font-size="91">B</text>
<text transform="translate(611.73,1252.5) scale(0.8402,1)" font-size="91.4">C</text>
<text transform="translate(1459.15,1441.5) scale(1.0000,1)" font-size="100" style="letter-spacing:2.30px" fill="#ff0000">**</text>
<text transform="translate(1541.75,1372.3) scale(1.0000,1)" font-size="100" style="letter-spacing:2.30px" fill="#ff0000">**</text>
<path d="M1587.4 677.8h3.9M1599.2 677.8h13.5M1620.7 677.8h10.3M1656.7 677.8h3.7M1785.3 677.8h2.5M1924.9 677.8h4.9M1962.9 677.8h11M1999.6 677.8h3.7" stroke="#555" stroke-width="1.1" stroke-linecap="butt" fill="none"/>
<path d="M1046.6 1844.2h2.4M1376.5 1264.8h4" stroke="#333" stroke-width="1.4" stroke-linecap="butt" fill="none"/>
</svg>
</body></html>
